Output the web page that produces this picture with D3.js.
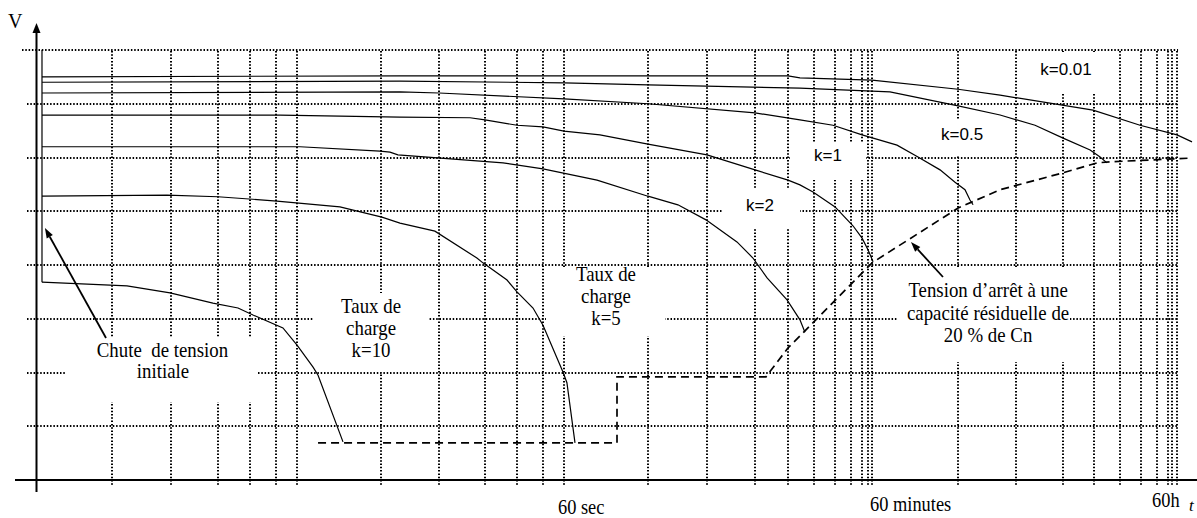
<!DOCTYPE html>
<html><head><meta charset="utf-8">
<script src="https://cdn.jsdelivr.net/npm/d3@7"></script>
<style>html,body{margin:0;padding:0;background:#fff;overflow:hidden}svg{display:block}</style>
</head><body>
<svg id="chart" width="1197" height="518"></svg>
<script>
// ---- DATA (x: log10 of time in seconds, y: voltage in grid units) ----
const gridTimes = [-0.849,-0.506,-0.233,-0.047,0.105,0.227,0.715,1.052,1.319,1.505,1.656,1.778,
  2.266,2.609,2.888,3.080,3.231,3.353,3.446,3.510,3.545,3.568,
  4.068,4.405,4.678,4.858,5.009,5.131,5.224,5.288,5.311,5.340];
const gridVolts = [1,2,3,4,5,6,7,8];

const curveK001 = [[-1.255,7.50],[0.825,7.52],[3.080,7.52],[3.149,7.48],[3.568,7.44],[4.068,7.27],[4.312,7.16],[4.852,6.88],[5.125,6.60],[5.340,6.42],[5.427,6.29]];
const curveUnlabelled = [[-1.255,7.40],[0.825,7.42],[1.778,7.39],[2.266,7.35],[3.149,7.29],[3.672,7.22],[4.068,6.96],[4.312,6.79],[4.515,6.60],[4.678,6.36],[4.835,6.14],[4.893,6.01],[4.933,5.90]];
const curveK05 = [[-1.255,7.20],[0.825,7.22],[1.052,7.20],[1.778,7.09],[2.266,7.00],[2.888,6.83],[3.149,6.70],[3.341,6.60],[3.510,6.42],[3.713,6.23],[3.835,6.01],[3.963,5.77],[4.050,5.54],[4.108,5.40],[4.137,5.21],[4.155,5.12]];
const curveK1 = [[-1.255,6.79],[0.128,6.79],[0.825,6.75],[1.232,6.74],[1.319,6.70],[1.505,6.60],[1.656,6.57],[1.778,6.49],[1.987,6.42],[2.266,6.25],[2.609,6.05],[2.888,5.77],[3.080,5.58],[3.149,5.49],[3.225,5.36],[3.353,5.08],[3.457,4.73],[3.510,4.50],[3.545,4.28],[3.574,4.06]];
const curveK2 = [[-1.255,6.20],[0.244,6.20],[0.709,6.12],[0.767,6.10],[0.813,6.05],[1.424,5.90],[1.656,5.79],[1.970,5.58],[2.266,5.28],[2.440,5.12],[2.603,4.84],[2.783,4.43],[2.876,4.13],[2.958,3.76],[3.074,3.35],[3.149,2.98],[3.178,2.75]];
const curveK5 = [[-1.255,5.28],[-0.529,5.30],[-0.233,5.27],[0.110,5.19],[0.476,5.08],[0.720,4.89],[0.825,4.78],[1.028,4.63],[1.272,4.13],[1.307,4.04],[1.447,3.72],[1.505,3.50],[1.598,3.20],[1.656,2.88],[1.772,2.01],[1.795,1.81],[1.842,0.69]];
const curveK10 = [[-1.255,3.68],[-0.761,3.61],[-0.511,3.48],[-0.262,3.29],[-0.116,3.20],[-0.029,3.07],[0.145,2.83],[0.227,2.51],[0.320,2.10],[0.349,1.95],[0.494,0.71]];
const initialDrop = [[-1.255,8.0],[-1.255,3.68]];
const cutoffLine = [[0.349,0.69],[2.086,0.69],[2.086,1.92],[2.952,1.92],[3.080,2.46],[3.149,2.68],[3.568,4.04],[4.068,5.06],[4.312,5.40],[4.672,5.71],[4.875,5.90],[4.951,5.92],[5.427,5.99]];

const arrowTails = [[-0.883,2.642],[3.980,3.777]];
const arrowTips  = [[-1.238,4.688],[3.794,4.428]];

const serifLabels = [
  {text:"Chute  de tension", t:-0.555, v:2.288},
  {text:"initiale", t:-0.552, v:1.898},
  {text:"Taux de", t:0.657, v:3.107},
  {text:"charge", t:0.657, v:2.698},
  {text:"k=10", t:0.657, v:2.288},
  {text:"Taux de", t:2.022, v:3.702},
  {text:"charge", t:2.022, v:3.293},
  {text:"k=5", t:2.022, v:2.884},
  {text:"Tension d\u2019arrêt à une", t:4.242, v:3.405},
  {text:"capacité résiduelle de", t:4.242, v:2.977},
  {text:"20 % de Cn", t:4.242, v:2.567}
];
const curveLabels = [
  {text:"k=0.01", t:4.695, v:7.535},
  {text:"k=0.5", t:4.091, v:6.326},
  {text:"k=1", t:3.312, v:5.935},
  {text:"k=2", t:2.917, v:5.005}
];
const timeLabels = [
  {text:"60 sec", t:1.743, v:-0.633},
  {text:"60 minutes", t:3.556, v:-0.577},
  {text:"60h", t:5.195, v:-0.502}
];

// ---- SCALES ----
const x = d3.scaleLinear().domain([-1.284, 5.456]).range([37, 1197]);
const y = d3.scaleLinear().domain([0, 8]).range([480, 50]);

const svg = d3.select("#chart");
const gridStyle = s => s.attr("stroke","#000").attr("stroke-width",2).attr("stroke-dasharray","1.5,1.8").attr("fill","none");

// grid
const gx0 = x.range()[0] - 10, gx1 = x(5.346);
svg.append("g").selectAll("line").data(gridVolts).join("line")
  .attr("x1", d => d === 8 ? gx0 - 5 : gx0).attr("x2", gx1)
  .attr("y1", d => Math.round(y(d))).attr("y2", d => Math.round(y(d))).call(gridStyle);
svg.append("g").selectAll("line").data(gridTimes).join("line")
  .attr("x1", d => Math.round(x(d))).attr("x2", d => Math.round(x(d)))
  .attr("y1", y(8) + 1).attr("y2", y(0) + 6).call(gridStyle);

// white areas behind the annotations (gaps in the grid)
const gaps = [[65,338,193,64],[313,293,115,79],[546,268,119,68],[897,268,173,94],[722,188,78,40],[790,142,76,38],[930,120,60,35],[1035,52,65,40]];
svg.append("g").selectAll("rect").data(gaps).join("rect")
  .attr("x", d => d[0]).attr("y", d => d[1]).attr("width", d => d[2]).attr("height", d => d[3]).attr("fill", "#fff");

// axes
svg.append("line").attr("x1", 36.5).attr("x2", 36.5).attr("y1", y(0) + 12).attr("y2", y(8) - 20)
  .attr("stroke","#000").attr("stroke-width",2);
svg.append("path").attr("d", `M36.5,${y(8)-27} L32.5,${y(8)-17} L40.5,${y(8)-17} Z`).attr("fill","#000");
svg.append("line").attr("x1", 15).attr("x2", 1197).attr("y1", y(0)).attr("y2", y(0))
  .attr("stroke","#000").attr("stroke-width",2);

// curves
const line = d3.line().x(d => x(d[0])).y(d => y(d[1]));
const curves = [curveK001, curveUnlabelled, curveK05, curveK1, curveK2, curveK5, curveK10, initialDrop];
svg.append("g").selectAll("path").data(curves).join("path")
  .attr("d", line).attr("fill","none").attr("stroke","#000").attr("stroke-width",1.2);
svg.append("path").attr("d", line(cutoffLine)).attr("fill","none").attr("stroke","#000")
  .attr("stroke-width",1.7).attr("stroke-dasharray","8,5");

// arrows
arrowTails.forEach((tail, i) => {
  const tip = arrowTips[i];
  const x0 = x(tail[0]), y0 = y(tail[1]), x1 = x(tip[0]), y1 = y(tip[1]);
  const a = Math.atan2(y1 - y0, x1 - x0), L = 10, hw = 3.5;
  const bx = x1 - L*Math.cos(a), by = y1 - L*Math.sin(a);
  svg.append("line").attr("x1", x0).attr("y1", y0).attr("x2", bx).attr("y2", by)
    .attr("stroke","#000").attr("stroke-width",1.8);
  svg.append("path").attr("d", `M${x1},${y1} L${bx - hw*Math.sin(a)},${by + hw*Math.cos(a)} L${bx + hw*Math.sin(a)},${by - hw*Math.cos(a)} Z`).attr("fill","#000");
});

// texts
const serif = "'Liberation Serif','Times New Roman',serif";
svg.append("g").selectAll("text").data(serifLabels).join("text")
  .attr("transform", d => `translate(${x(d.t)},${y(d.v)}) scale(0.92,1)`)
  .attr("text-anchor","middle").attr("font-family", serif).attr("font-size", 20.5).attr("fill","#000")
  .attr("xml:space","preserve").style("white-space","pre").text(d => d.text);
svg.append("g").selectAll("text").data(timeLabels).join("text")
  .attr("transform", d => `translate(${x(d.t)},${y(d.v)}) scale(0.92,1)`)
  .attr("font-family", serif).attr("font-size", 20).attr("fill","#000").text(d => d.text);
svg.append("g").selectAll("text").data(curveLabels).join("text")
  .attr("x", d => x(d.t)).attr("y", d => y(d.v)).attr("text-anchor","middle")
  .attr("font-family","'Liberation Sans',Arial,sans-serif").attr("font-size",17).attr("fill","#000").text(d => d.text);
svg.append("text").attr("x", 8).attr("y", 28).attr("font-family", serif).attr("font-size", 20).text("V");
svg.append("text").attr("x", 1189).attr("y", 511).attr("font-family", serif).attr("font-style","italic").attr("font-size", 17).text("t");
</script>
</body></html>
